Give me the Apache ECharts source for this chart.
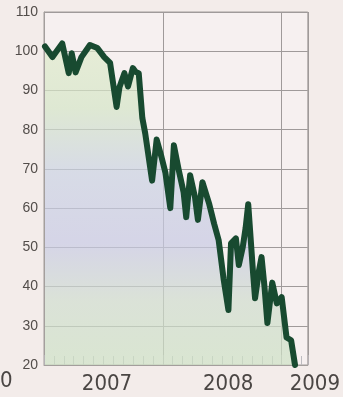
<!DOCTYPE html>
<html>
<head>
<meta charset="utf-8">
<script src="https://cdn.jsdelivr.net/npm/echarts@6/dist/echarts.min.js"></script>
<style>
  html, body { margin: 0; padding: 0; background: #f3ecea; }
  #chart { width: 343px; height: 397px; }
</style>
</head>
<body>
<div id="chart"></div>
<script>
// Share price index, Jan 2007 = ~100
const dates = [
  '2007-01-04','2007-01-27','2007-02-26','2007-03-18','2007-03-27','2007-04-08',
  '2007-04-26','2007-05-22','2007-06-14','2007-07-05','2007-07-23','2007-08-12',
  '2007-08-21','2007-09-05','2007-09-16','2007-10-01','2007-10-10','2007-10-19',
  '2007-10-30','2007-11-08','2007-11-29','2007-12-13','2007-12-28','2008-01-09',
  '2008-01-24','2008-02-04','2008-02-19','2008-03-05','2008-03-13','2008-03-25',
  '2008-04-09','2008-04-18','2008-05-02','2008-05-23','2008-06-07','2008-06-21',
  '2008-07-06','2008-07-21','2008-07-29','2008-08-13','2008-08-22','2008-09-03',
  '2008-09-12','2008-09-20','2008-10-05','2008-10-11','2008-10-23','2008-10-31',
  '2008-11-09','2008-11-18','2008-12-03','2008-12-17','2009-01-01','2009-01-16',
  '2009-01-30','2009-02-11'
];
const values = [
  101.2, 98.5, 102.0, 94.4, 99.5, 94.6,
  98.5, 101.6, 100.8, 98.5, 97.0, 85.8,
  90.9, 94.4, 91.0, 95.7, 94.7, 94.4,
  83.0, 79.0, 67.0, 77.5, 73.0, 69.0,
  60.0, 76.0, 69.7, 64.0, 57.7, 68.4,
  62.8, 57.0, 66.6, 61.0, 56.0, 51.8,
  42.0, 34.0, 51.0, 52.3, 45.5, 50.0,
  55.0, 61.0, 43.4, 37.0, 44.0, 47.5,
  40.0, 30.7, 41.0, 35.7, 37.3, 27.0,
  26.3, 20.0
];
const yTicks = [20, 30, 40, 50, 60, 70, 80, 90, 100, 110];
const yearLabels = ['2007', '2008', '2009'];

// date string -> decimal year
function toYear(s) {
  const d = new Date(s + 'T00:00:00Z');
  const y = d.getUTCFullYear();
  const start = Date.UTC(y, 0, 1), end = Date.UTC(y + 1, 0, 1);
  return y + (d.getTime() - start) / (end - start);
}
const points = dates.map((d, i) => [toYear(d), values[i]]);

const xMin = 2007, xMax = 2009.22;
const labelPos = [2007.53, 2008.55, xMax];
const labelFont = '"Liberation Sans Narrow", "DejaVu Sans Condensed", sans-serif';

const chart = echarts.init(document.getElementById('chart'), null, { renderer: 'canvas' });
chart.setOption({
  backgroundColor: '#f3ecea',
  animation: false,
  grid: {
    left: 44, right: 23, top: 12, bottom: 32,
    show: true, backgroundColor: '#f6f0f0',
    borderColor: '#a39e9c', borderWidth: 1
  },
  xAxis: {
    type: 'value', min: xMin, max: xMax, interval: 1,
    axisLine: { show: true, lineStyle: { color: '#a39e9c' } },
    axisTick: { show: true, inside: true, length: 10, lineStyle: { color: '#b4b0b4' } },
    minorTick: { show: true, splitNumber: 12, length: 9, lineStyle: { color: '#bdbcc0' } },
    splitLine: { show: true, lineStyle: { color: '#9f9a9a', width: 1 } },
    axisLabel: {
      customValues: labelPos,
      formatter: v => {
        const i = labelPos.findIndex(p => Math.abs(p - v) < 1e-6);
        if (i < 0) return '';
        return i === labelPos.length - 1 ? '{r|' + yearLabels[i] + '}' : yearLabels[i];
      },
      rich: { r: { fontFamily: labelFont, fontSize: 22, color: '#4a4644', padding: [0, 0, 0, 14] } },
      fontFamily: labelFont,
      fontSize: 22, color: '#4a4644', margin: 8
    }
  },
  yAxis: {
    type: 'value', min: yTicks[0], max: yTicks[yTicks.length - 1], interval: 10,
    axisLine: { show: true, lineStyle: { color: '#a39e9c' } },
    axisTick: { show: false },
    splitLine: { show: true, lineStyle: { color: '#9f9a9a', width: 1 } },
    axisLabel: {
      fontFamily: 'Liberation Sans, sans-serif', fontSize: 14,
      color: '#524d4a', margin: 6
    }
  },
  graphic: [{
    type: 'text', left: 0, bottom: 5,
    style: { text: '0', fill: '#4a4644', font: '22px ' + labelFont }
  }],
  series: [{
    type: 'line',
    data: points,
    showSymbol: false,
    smooth: false,
    clip: true,
    lineStyle: { color: '#184a30', width: 6, join: 'round', cap: 'round' },
    areaStyle: {
      origin: 'start',
      color: new echarts.graphic.LinearGradient(0, 0, 0, 1, [
        { offset: 0.0, color: '#e0ebcc' },
        { offset: 0.2, color: '#d4e5c6' },
        { offset: 0.4, color: '#cad2e2' },
        { offset: 0.62, color: '#c7c9e3' },
        { offset: 0.8, color: '#cfdccd' },
        { offset: 1.0, color: '#cde1c4' }
      ])
    }
  }]
});
</script>
</body>
</html>
